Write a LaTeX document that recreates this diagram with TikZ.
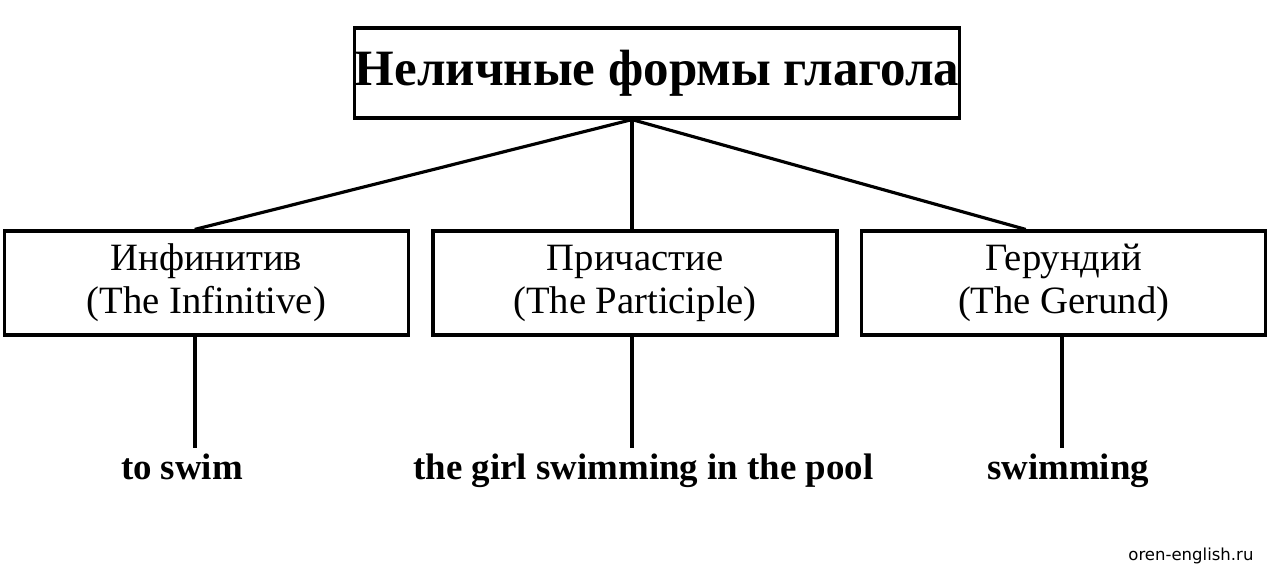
\documentclass[tikz,border=0pt]{standalone}
\usepackage{fontspec}
\setmainfont{Liberation Serif}
\newfontfamily\markfont{DejaVu Sans}
\usetikzlibrary{positioning}

\begin{document}
\begin{tikzpicture}[line width=1.8pt, on grid, node distance=8.575cm,
    title/.style={draw, minimum width=12.04cm, minimum height=1.8cm, inner sep=0pt,
        font=\fontsize{29}{32}\selectfont\bfseries},
    form/.style={draw, minimum width=8.08cm, minimum height=2.08cm, align=center,
        font=\fontsize{22}{24.5}\selectfont},
    sample/.style={anchor=base, inner sep=0pt, font=\fontsize{21}{24}\selectfont\bfseries}]
    \useasboundingbox (0,0) rectangle (25.44,-11.42);
    \node [title] (top) at (13.14,-1.46) {Неличные формы глагола};
    \node [form] [below left=4.2cm and 0.44cm of top] (part) {Причастие\\(The Participle)};
    \node [form] [left=of part] (inf) {Инфинитив\\(The Infinitive)};
    \node [form] [right=of part] (ger) {Герундий\\(The Gerund)};
    % examples
    \node [sample] (swim) at (3.64,-9.58) {to swim};
    \node [sample] (girl) at (12.87,-9.58) {the girl swimming in the pool};
    \node [sample] (swimming) at (21.36,-9.58) {swimming};
    \coordinate (e1) at (3.9,-8.96);
    \coordinate (e2) at (12.64,-8.96);
    \coordinate (e3) at (21.24,-8.96);
    \coordinate (fork) at ([xshift=-0.5cm]top.south);
    \draw (fork) -- ([xshift=-0.23cm]inf.north);
    \draw (fork) -- (fork |- part.north);
    \draw (fork) -- ([xshift=-0.76cm]ger.north);
    \draw (e1 |- inf.south) -- (e1);
    \draw (e2 |- part.south) -- (e2);
    \draw (e3 |- ger.south) -- (e3);
    \node [anchor=base east, inner sep=0pt, font=\markfont\fontsize{9.4}{11}\selectfont] (site) at (25.1,-11.2) {oren-english.ru};
\end{tikzpicture}
\end{document}
